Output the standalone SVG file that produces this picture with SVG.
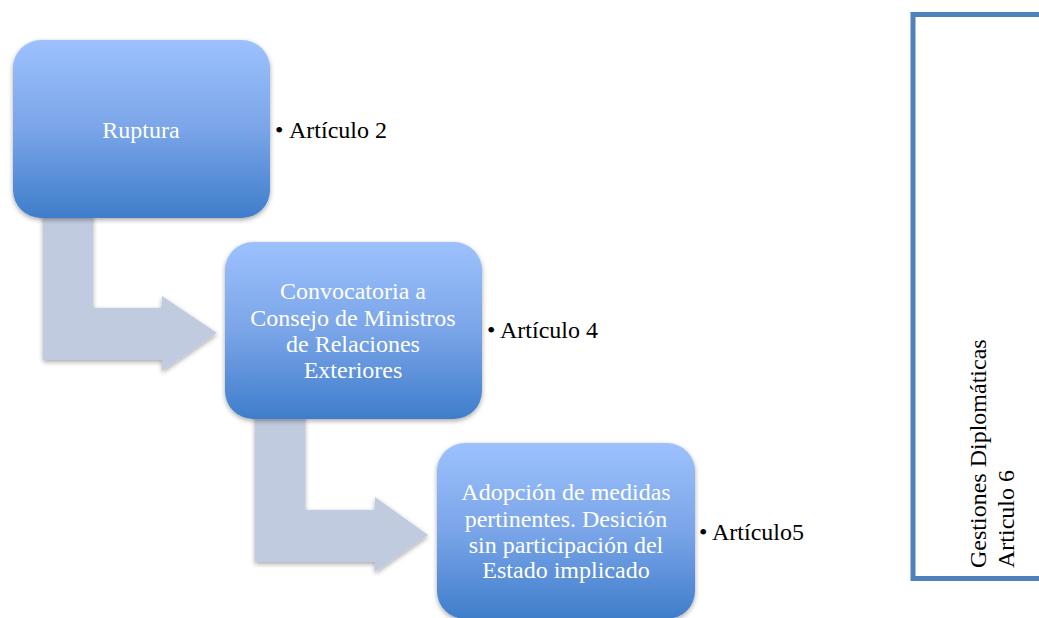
<svg xmlns="http://www.w3.org/2000/svg" width="1039" height="618" viewBox="0 0 1039 618">
<defs>
<linearGradient id="g" x1="0" y1="0" x2="0" y2="1">
<stop offset="0" stop-color="#9dc1fd"/>
<stop offset="0.5" stop-color="#7aa5e8"/>
<stop offset="1" stop-color="#3f7dcb"/>
</linearGradient>
<filter id="sh" x="-10%" y="-10%" width="120%" height="125%">
<feGaussianBlur in="SourceAlpha" stdDeviation="2.5"/>
<feOffset dx="0" dy="2" result="b"/>
<feComponentTransfer><feFuncA type="linear" slope="0.35"/></feComponentTransfer>
<feMerge><feMergeNode/><feMergeNode in="SourceGraphic"/></feMerge>
</filter>
<style>
.box{fill:url(#g);filter:url(#sh);}
.arr{fill:#c0cbdf;filter:url(#sh);}
.t{font-family:"Liberation Serif","Times New Roman",serif;font-size:24px;fill:#ffffff;text-anchor:middle;}
.b{font-family:"Liberation Serif","Times New Roman",serif;font-size:24px;fill:#000000;}
.side{font-family:"Liberation Serif","Times New Roman",serif;font-size:24px;fill:#000000;}
</style>
</defs>
<rect width="1039" height="618" fill="#ffffff"/>
<g id="connectors">
<path class="arr" d="M43,210 H93 V308 H162 V296 L217,333 L162,371 V360 H43 Z"/>
<path class="arr" d="M255,410 H305 V510 H375 V497 L428,535 L375,572 V562 H255 Z"/>
</g>
<g id="node-ruptura">
<rect class="box" x="13" y="40" width="257" height="178" rx="28"/>
<text class="t" x="141" y="138">Ruptura</text>
</g>
<g id="label-art2">
<text class="b" x="275" y="138">•<tspan x="289">Artículo 2</tspan></text>
</g>
<g id="node-convocatoria">
<rect class="box" x="225" y="242" width="257" height="177" rx="28"/>
<text class="t" x="353" y="299">Convocatoria a</text>
<text class="t" x="353" y="326">Consejo de Ministros</text>
<text class="t" x="353" y="352">de Relaciones</text>
<text class="t" x="353" y="378">Exteriores</text>
</g>
<g id="label-art4">
<text class="b" x="487" y="338">•<tspan x="500">Artículo 4</tspan></text>
</g>
<g id="node-adopcion">
<rect class="box" x="437" y="443" width="258" height="176" rx="28"/>
<text class="t" x="566" y="500">Adopción de medidas</text>
<text class="t" x="566" y="527">pertinentes. Desición</text>
<text class="t" x="566" y="553">sin participación del</text>
<text class="t" x="566" y="578">Estado implicado</text>
</g>
<g id="label-art5">
<text class="b" x="699" y="540">•<tspan x="712">Artículo5</tspan></text>
</g>
<g id="node-gestiones">
<path d="M1045,14.5 H913 V578.5 H1045" fill="none" stroke="#4f81bd" stroke-width="5"/>
<text class="side" transform="translate(986,568) rotate(-90)">Gestiones Diplomáticas</text>
<text class="side" transform="translate(1014,568) rotate(-90)">Articulo 6</text>
</g>
</svg>
